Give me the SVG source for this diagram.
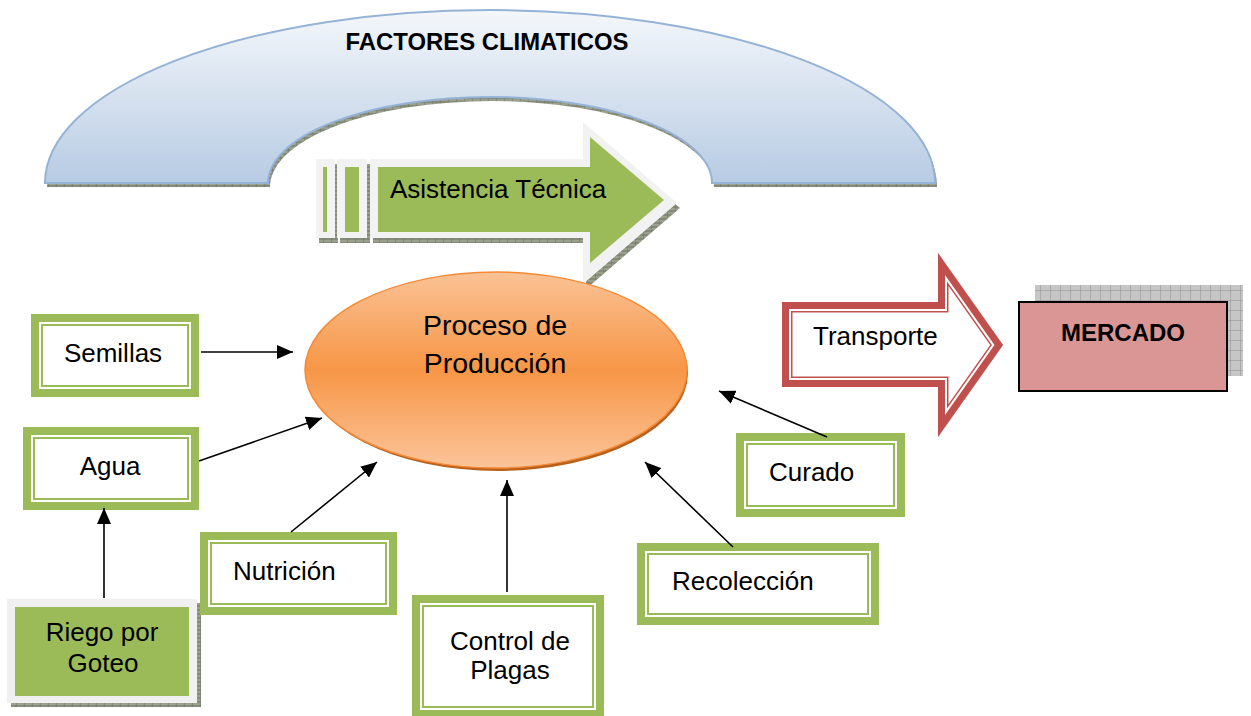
<svg xmlns="http://www.w3.org/2000/svg" width="1251" height="716" viewBox="0 0 1251 716">
<defs>
<style>
.t{font-family:"Liberation Sans",Arial,sans-serif;fill:#000;}
.box{font-size:26px;}
.g-out{fill:#9bbb59;}
.g-in{fill:#fff;stroke:#9bbb59;stroke-width:2;}
.con{stroke:#000;stroke-width:1.6;fill:none;marker-end:url(#ah);}
</style>
<marker id="ah" markerUnits="userSpaceOnUse" markerWidth="18" markerHeight="14" refX="16" refY="7" orient="auto">
<path d="M0,0 L16,7 L0,14 Z" fill="#000"/>
</marker>
<linearGradient id="archG" x1="0" y1="0" x2="0" y2="1">
<stop offset="0" stop-color="#f4f7fb"/>
<stop offset="1" stop-color="#b7cbe3"/>
</linearGradient>
<linearGradient id="ellG" x1="0" y1="0" x2="0" y2="1">
<stop offset="0" stop-color="#fac295"/>
<stop offset="0.5" stop-color="#f79646"/>
<stop offset="1" stop-color="#fbc49a"/>
</linearGradient>
<pattern id="hatch" patternUnits="userSpaceOnUse" width="8" height="4">
<rect width="8" height="4" fill="#9aa08c"/>
<path d="M0,0 V4 M0,2 H8" stroke="#6f7564" stroke-width="1"/>
</pattern>
<pattern id="grid" patternUnits="userSpaceOnUse" width="10" height="10">
<rect width="10" height="10" fill="#c6c6c6"/>
<path d="M0,0 H10 M0,0 V10" stroke="#8f8f8f" stroke-width="1"/>
</pattern>
<clipPath id="trClip">
<polygon id="trPoly" points="782,302 938,302 938,253 1003,345 938,437 938,387 782,387"/>
</clipPath>
</defs>

<g id="factores-climaticos">
<path d="M 47,187 A 445,173 0 0 1 937,187 L 714,187 A 222,86 0 0 0 270,187 Z" fill="url(#hatch)"/>
<path d="M 45,183 A 445,173 0 0 1 935,183 L 712,183 A 222,86 0 0 0 268,183 Z" fill="url(#archG)" stroke="#95b3d7" stroke-width="2"/>
<text class="t" x="487" y="50" font-size="23" font-weight="bold" text-anchor="middle" textLength="283" lengthAdjust="spacingAndGlyphs">FACTORES CLIMATICOS</text>
</g>

<g id="asistencia-tecnica">
<g fill="url(#hatch)" transform="translate(3,5)">
<rect x="316" y="159" width="19" height="79"/>
<rect x="337" y="159" width="30" height="79"/>
<polygon points="370,159 583,159 583,122 677,203 583,284 583,238 370,238"/>
</g>
<g fill="#f2f2f2">
<rect x="316" y="159" width="19" height="79"/>
<rect x="337" y="159" width="30" height="79"/>
<polygon points="370,159 583,159 583,122 677,203 583,284 583,238 370,238"/>
</g>
<g fill="#9bbb59">
<rect x="323" y="167" width="4" height="65"/>
<rect x="345" y="167" width="14" height="65"/>
<polygon points="378,167 590,167 590,137 664,200 590,263 590,232 378,232"/>
</g>
<text class="t" x="390" y="198" font-size="26">Asistencia Técnica</text>
</g>

<g id="proceso-produccion">
<ellipse cx="498" cy="373" rx="190" ry="98" fill="#b8611c"/>
<ellipse cx="496" cy="370" rx="191" ry="98" fill="url(#ellG)" stroke="#f58a36" stroke-width="1.5"/>
<text class="t" font-size="28.5" text-anchor="middle"><tspan x="495" y="335">Proceso de</tspan><tspan x="495" y="373">Producción</tspan></text>
</g>

<g id="transporte">
<g clip-path="url(#trClip)">
<use href="#trPoly" fill="#fff" stroke="#c0504d" stroke-width="21"/>
<use href="#trPoly" fill="none" stroke="#fff" stroke-width="18"/>
<use href="#trPoly" fill="none" stroke="#c0504d" stroke-width="14"/>
</g>
<text class="t" x="813" y="345" font-size="26">Transporte</text>
</g>

<g id="mercado">
<rect x="1035" y="285" width="208" height="91" fill="url(#grid)"/>
<rect x="1019" y="302" width="208" height="89" fill="#d99694" stroke="#000" stroke-width="2"/>
<text class="t" x="1123" y="341" font-size="24" font-weight="bold" text-anchor="middle">MERCADO</text>
</g>

<g id="semillas">
<rect class="g-out" x="31" y="314" width="168" height="83"/>
<rect x="39" y="322" width="152" height="67" fill="#fff"/>
<rect class="g-in" x="42" y="325" width="146" height="61"/>
<text class="t box" x="113" y="362" text-anchor="middle">Semillas</text>
</g>

<g id="agua">
<rect class="g-out" x="23" y="427" width="176" height="83"/>
<rect x="31" y="435" width="160" height="67" fill="#fff"/>
<rect class="g-in" x="34" y="438" width="154" height="61"/>
<text class="t box" x="110" y="475" text-anchor="middle">Agua</text>
</g>

<g id="riego-goteo">
<rect x="11" y="603" width="190" height="104" fill="url(#hatch)"/>
<rect x="7" y="599" width="190" height="104" fill="#f0f0f0"/>
<rect x="15" y="607" width="174" height="89" fill="#9bbb59"/>
<text class="t box" text-anchor="middle"><tspan x="102" y="641">Riego por</tspan><tspan x="103" y="672">Goteo</tspan></text>
</g>

<g id="nutricion">
<rect class="g-out" x="200" y="532" width="197" height="83"/>
<rect x="208" y="540" width="181" height="67" fill="#fff"/>
<rect class="g-in" x="211" y="543" width="175" height="61"/>
<text class="t box" x="233" y="580">Nutrición</text>
</g>

<g id="control-plagas">
<rect class="g-out" x="412" y="595" width="192" height="123"/>
<rect x="420" y="603" width="176" height="107" fill="#fff"/>
<rect class="g-in" x="423" y="606" width="170" height="101"/>
<text class="t box" text-anchor="middle"><tspan x="510" y="650">Control de</tspan><tspan x="510" y="679">Plagas</tspan></text>
</g>

<g id="recoleccion">
<rect class="g-out" x="637" y="543" width="242" height="82"/>
<rect x="645" y="551" width="226" height="66" fill="#fff"/>
<rect class="g-in" x="648" y="554" width="220" height="60"/>
<text class="t box" x="672" y="590">Recolección</text>
</g>

<g id="curado">
<rect class="g-out" x="736" y="433" width="169" height="84"/>
<rect x="744" y="441" width="153" height="68" fill="#fff"/>
<rect class="g-in" x="747" y="444" width="147" height="62"/>
<text class="t box" x="769" y="481">Curado</text>
</g>

<g id="connectors">
<line class="con" x1="201" y1="352" x2="293" y2="352"/>
<line class="con" x1="199" y1="461" x2="322" y2="418"/>
<line class="con" x1="104" y1="598" x2="104" y2="508"/>
<line class="con" x1="291" y1="532" x2="377" y2="462"/>
<line class="con" x1="507" y1="592" x2="507" y2="480"/>
<line class="con" x1="733" y1="547" x2="645" y2="462"/>
<line class="con" x1="827" y1="437" x2="719" y2="391"/>
</g>
</svg>
